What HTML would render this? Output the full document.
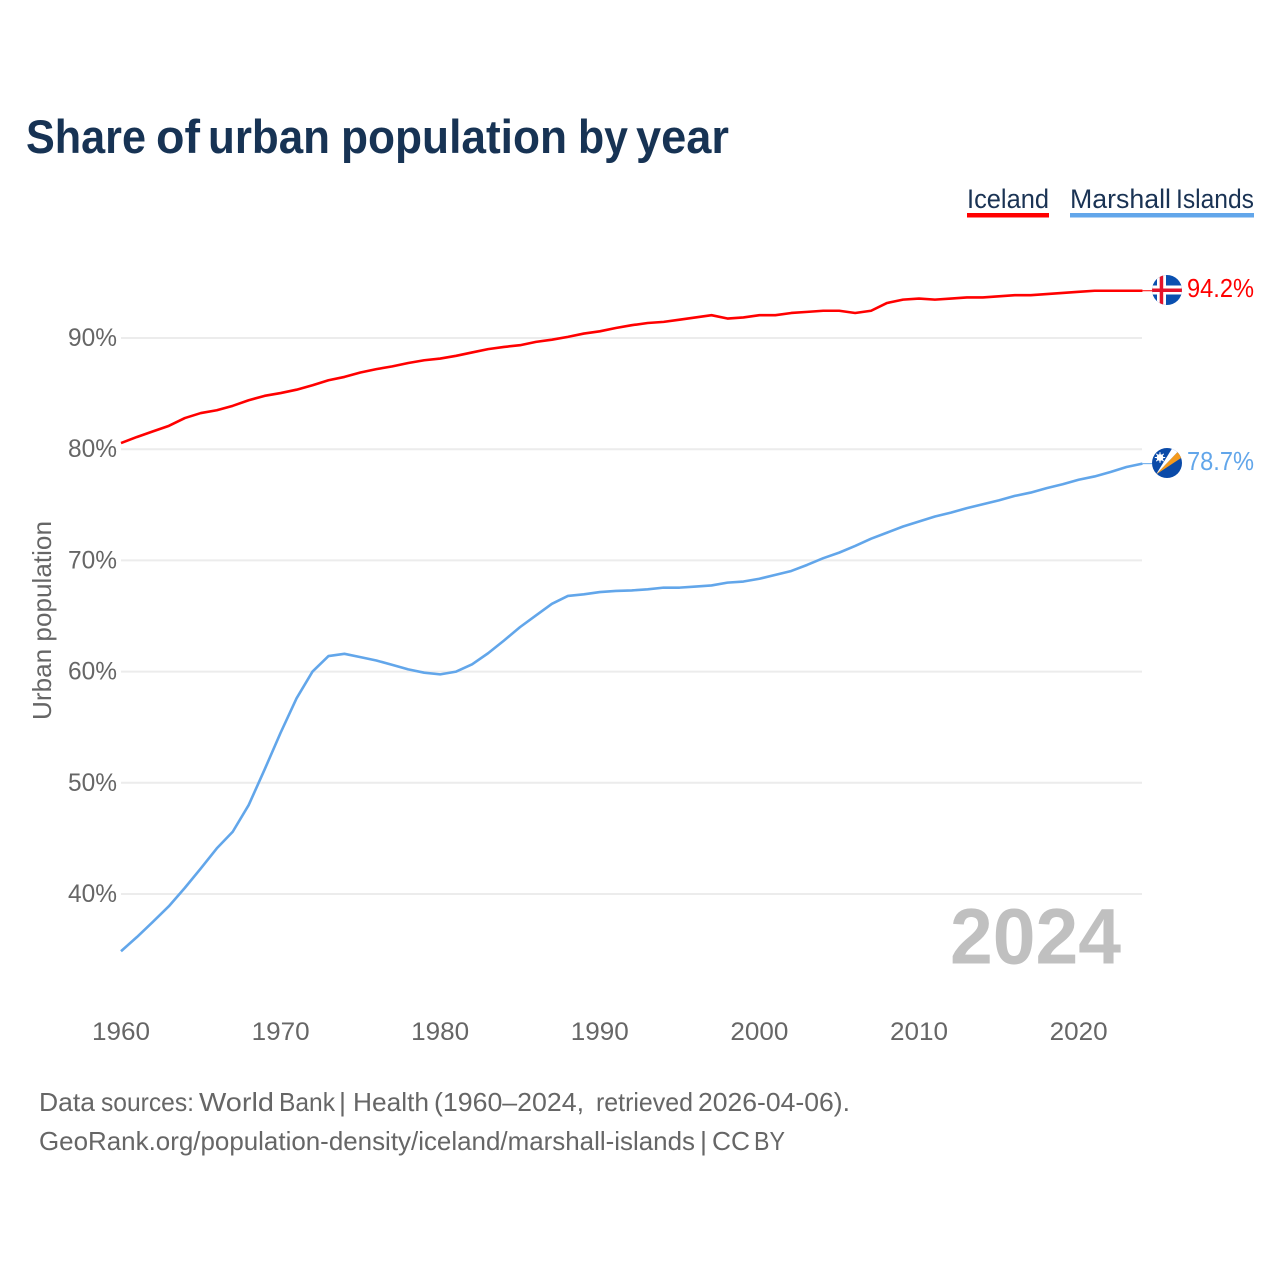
<!DOCTYPE html>
<html lang="en">
<head>
<meta charset="utf-8">
<title>Share of urban population by year</title>
<style>
html,body{margin:0;padding:0;background:#fff;}
svg{display:block;}
text{font-family:"Liberation Sans",sans-serif;}
</style>
</head>
<body>
<svg id="chart" width="1280" height="1280" viewBox="0 0 1280 1280" xmlns="http://www.w3.org/2000/svg">
  <defs>
    <clipPath id="clip-is"><circle cx="1167" cy="290" r="15"/></clipPath>
    <clipPath id="clip-mh"><circle cx="1167" cy="463" r="15"/></clipPath>
  </defs>
  <rect width="1280" height="1280" fill="#ffffff"/>
  <text y="153" font-size="47.500" font-weight="700" fill="#173354"><tspan x="26" textLength="120" lengthAdjust="spacingAndGlyphs">Share</tspan> <tspan x="156" textLength="44" lengthAdjust="spacingAndGlyphs">of</tspan> <tspan x="208" textLength="122" lengthAdjust="spacingAndGlyphs">urban</tspan> <tspan x="341" textLength="226" lengthAdjust="spacingAndGlyphs">population</tspan> <tspan x="578" textLength="50" lengthAdjust="spacingAndGlyphs">by</tspan> <tspan x="636" textLength="93" lengthAdjust="spacingAndGlyphs">year</tspan></text>

  <g>
    <text x="967" y="208" font-size="27" fill="#1a3354" textLength="82" lengthAdjust="spacingAndGlyphs">Iceland</text>
    <rect x="967" y="213" width="82" height="4.500" fill="#ff0000"/>
    <text y="208" font-size="27" fill="#1a3354"><tspan x="1070" textLength="101" lengthAdjust="spacingAndGlyphs">Marshall</tspan> <tspan x="1176" textLength="78" lengthAdjust="spacingAndGlyphs">Islands</tspan></text>
    <rect x="1070" y="213" width="184" height="4.500" fill="#62a6ea"/>
  </g>

  <g id="grid"></g>
  <g id="yticks"></g>
  <g id="xticks"></g>

  <text transform="translate(51,720) rotate(-90)" font-size="26" fill="#666666" textLength="199" lengthAdjust="spacingAndGlyphs">Urban population</text>

  <text x="950" y="963.500" font-size="79" font-weight="700" fill="#c0c0c0" textLength="171" lengthAdjust="spacingAndGlyphs">2024</text>

  <g id="series"></g>

  <g clip-path="url(#clip-is)">
    <rect x="1150" y="273" width="34" height="34" fill="#0a50b0"/>
    <rect x="1150" y="285.500" width="34" height="9" fill="#ffffff"/>
    <rect x="1157" y="273" width="9" height="34" fill="#ffffff"/>
    <rect x="1150" y="288.500" width="34" height="3.500" fill="#e2132b"/>
    <rect x="1159.700" y="273" width="3.500" height="34" fill="#e2132b"/>
  </g>
  <g clip-path="url(#clip-mh)">
    <rect x="1150" y="446" width="34" height="34" fill="#0a4aa8"/>
    <polygon points="1156,474.500 1184,456 1178.500,451" fill="#f39a1e"/>
    <polygon points="1156,474.500 1178.500,451 1173,447" fill="#ffffff"/>
    <circle cx="1160" cy="457.500" r="3.400" fill="#ffffff"/>
    <path d="M1160 452.300V462.700M1154.800 457.500H1165.200M1156.300 453.800L1163.700 461.200M1163.700 453.800L1156.300 461.200" stroke="#ffffff" stroke-width="1.100"/>
  </g>

  <text x="1187" y="297" font-size="26" fill="#ff0000" textLength="67" lengthAdjust="spacingAndGlyphs">94.2%</text>
  <text x="1187" y="470" font-size="26" fill="#62a6ea" textLength="67" lengthAdjust="spacingAndGlyphs">78.7%</text>

  <text y="1111" font-size="26" fill="#666666"><tspan x="39" textLength="56" lengthAdjust="spacingAndGlyphs">Data</tspan> <tspan x="101" textLength="93" lengthAdjust="spacingAndGlyphs">sources:</tspan> <tspan x="199" textLength="75" lengthAdjust="spacingAndGlyphs">World</tspan> <tspan x="279" textLength="56" lengthAdjust="spacingAndGlyphs">Bank</tspan> <tspan x="339" textLength="7" lengthAdjust="spacingAndGlyphs">|</tspan> <tspan x="353" textLength="76" lengthAdjust="spacingAndGlyphs">Health</tspan> <tspan x="434" textLength="150" lengthAdjust="spacingAndGlyphs">(1960–2024,</tspan> <tspan x="596" textLength="97" lengthAdjust="spacingAndGlyphs">retrieved</tspan> <tspan x="698" textLength="152" lengthAdjust="spacingAndGlyphs">2026-04-06).</tspan></text>
  <text y="1150" font-size="26" fill="#666666"><tspan x="39" textLength="656" lengthAdjust="spacingAndGlyphs">GeoRank.org/population-density/iceland/marshall-islands</tspan> <tspan x="700" textLength="7" lengthAdjust="spacingAndGlyphs">|</tspan> <tspan x="712" textLength="38" lengthAdjust="spacingAndGlyphs">CC</tspan> <tspan x="754" textLength="31" lengthAdjust="spacingAndGlyphs">BY</tspan></text>
</svg>

<script>
const startYear = 1960;
const xTickYears = [1960, 1970, 1980, 1990, 2000, 2010, 2020];
const yTickValues = [40, 50, 60, 70, 80, 90];
const icelandValues = [
  80.55, 81.1, 81.6, 82.1, 82.8, 83.25, 83.5, 83.9, 84.4, 84.8,
  85.05, 85.35, 85.75, 86.2, 86.5, 86.9, 87.2, 87.45, 87.75, 88.0,
  88.15, 88.4, 88.7, 89.0, 89.2, 89.35, 89.65, 89.85, 90.1, 90.4,
  90.6, 90.9, 91.15, 91.35, 91.45, 91.65, 91.85, 92.05, 91.75, 91.85,
  92.05, 92.05, 92.25, 92.35, 92.45, 92.45, 92.25, 92.45, 93.15, 93.45,
  93.55, 93.45, 93.55, 93.65, 93.65, 93.75, 93.85, 93.85, 93.95, 94.05,
  94.15, 94.25, 94.25, 94.25, 94.25
];
const marshallValues = [
  34.85, 36.13, 37.5, 38.9, 40.55, 42.3, 44.1, 45.6, 48.0, 51.2,
  54.5, 57.6, 60.0, 61.4, 61.6, 61.3, 61.0, 60.6, 60.2, 59.9,
  59.75, 60.0, 60.65, 61.65, 62.8, 64.0, 65.05, 66.1, 66.8, 66.95,
  67.15, 67.25, 67.3, 67.4, 67.55, 67.55, 67.65, 67.75, 68.0, 68.1,
  68.35, 68.7, 69.05, 69.6, 70.2, 70.7, 71.3, 71.95, 72.5, 73.05,
  73.5, 73.95, 74.3, 74.7, 75.05, 75.4, 75.8, 76.1, 76.5, 76.85,
  77.25, 77.55, 77.95, 78.4, 78.7
];

const NS = 'http://www.w3.org/2000/svg';
function xScale(year) { return 121 + (year - 1960) * 15.96; }
function yScale(v) { return 338 + (90 - v) * 11.12; }
function make(tag, attrs) {
  const el = document.createElementNS(NS, tag);
  for (const k in attrs) el.setAttribute(k, attrs[k]);
  return el;
}

const grid = document.getElementById('grid');
const yticks = document.getElementById('yticks');
yTickValues.forEach(function (v) {
  const line = make('line', { x1: 121, x2: 1142, y1: yScale(v), y2: yScale(v), stroke: '#ececec', 'stroke-width': 2 });
  
  
  grid.appendChild(line);
  const t = make('text', { x: 117, y: yScale(v) + 8, 'text-anchor': 'end', 'font-size': 25, fill: '#666666', textLength: 49, lengthAdjust: 'spacingAndGlyphs' });
  
  
  t.textContent = v + '%';
  yticks.appendChild(t);
});

const xticks = document.getElementById('xticks');
xTickYears.forEach(function (y) {
  const t = make('text', { x: xScale(y), y: 1040, 'text-anchor': 'middle', 'font-size': 25, fill: '#666666', textLength: 58, lengthAdjust: 'spacingAndGlyphs' });
  
  
  t.textContent = y;
  xticks.appendChild(t);
});

function linePath(values) {
  return values.map(function (v, i) {
    return (i ? 'L' : 'M') + xScale(startYear + i).toFixed(2) + ' ' + yScale(v).toFixed(2);
  }).join(' ');
}
const series = document.getElementById('series');

const marshallLine = make('path', { d: linePath(marshallValues), fill: 'none', stroke: '#62a6ea', 'stroke-width': 2.6, 'stroke-linejoin': 'round' });


series.appendChild(marshallLine);

const icelandLine = make('path', { d: linePath(icelandValues), fill: 'none', stroke: '#ff0000', 'stroke-width': 2.6, 'stroke-linejoin': 'round' });


series.appendChild(icelandLine);

const icelandEnd = icelandValues[icelandValues.length - 1];
const icelandLead = make('line', { x1: xScale(2024), x2: 1152, y1: yScale(icelandEnd), y2: yScale(icelandEnd), stroke: '#ff0000', 'stroke-width': 1 });


series.appendChild(icelandLead);

const marshallEnd = marshallValues[marshallValues.length - 1];
const marshallLead = make('line', { x1: xScale(2024), x2: 1152, y1: yScale(marshallEnd), y2: yScale(marshallEnd), stroke: '#62a6ea', 'stroke-width': 1 });


series.appendChild(marshallLead);
</script>
</body>
</html>
